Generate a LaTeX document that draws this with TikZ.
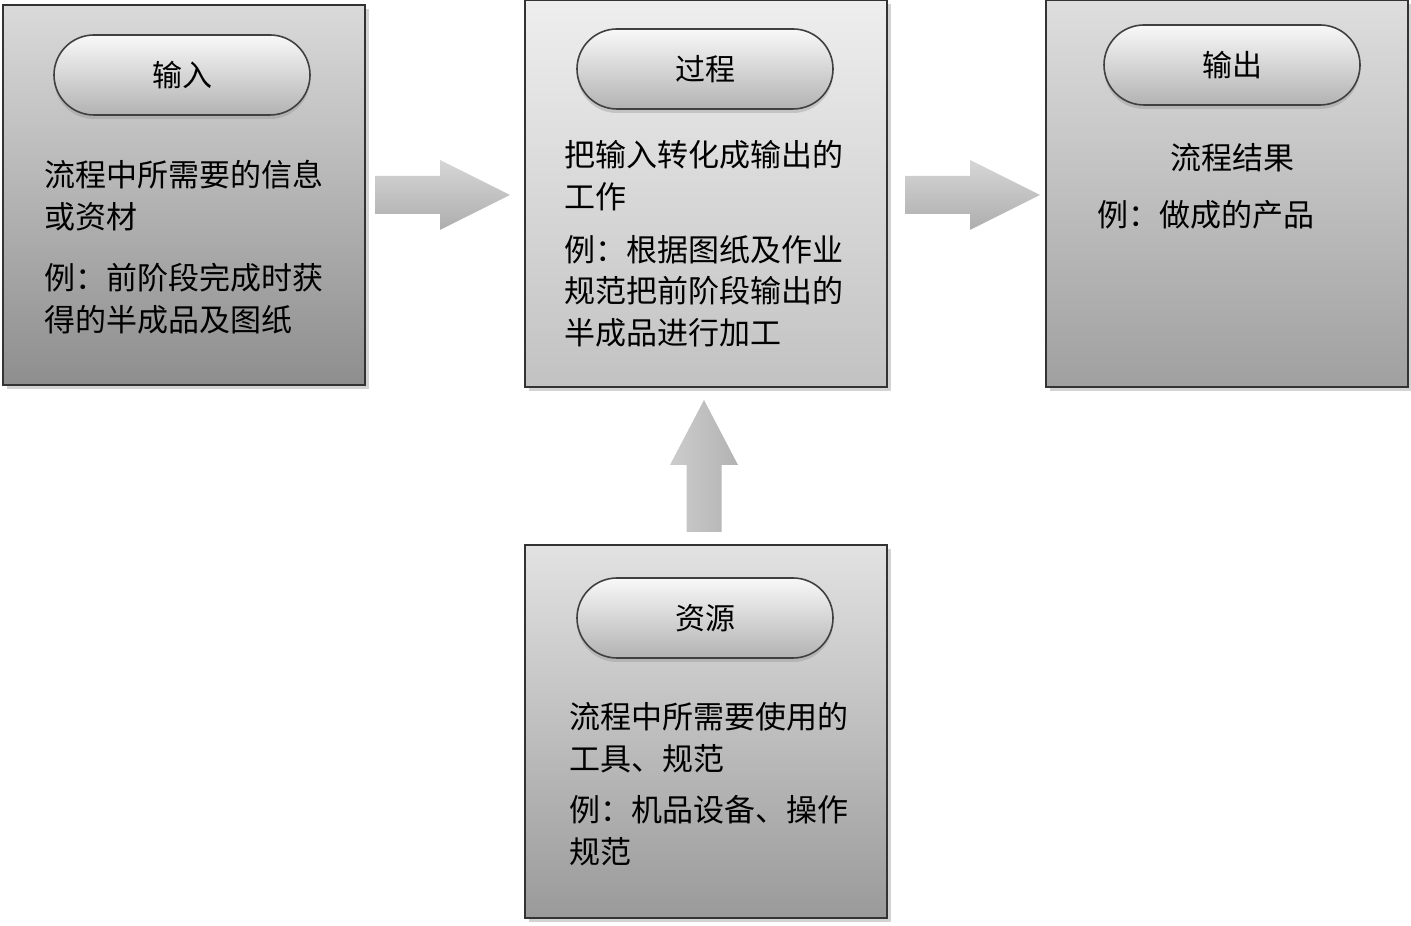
\documentclass[tikz,border=0pt]{standalone}
\usepackage{fontspec}
\setmainfont{Noto Sans CJK SC}
\usetikzlibrary{positioning, shapes.misc, shadows}

\definecolor{intop}{HTML}{DADADA}\definecolor{inbot}{HTML}{8E8E8E}
\definecolor{prtop}{HTML}{EEEEEE}\definecolor{prbot}{HTML}{C2C2C2}
\definecolor{outop}{HTML}{DEDEDE}\definecolor{oubot}{HTML}{A0A0A0}
\definecolor{retop}{HTML}{E2E2E2}\definecolor{rebot}{HTML}{9A9A9A}

\begin{document}
\begin{tikzpicture}[x=0.5pt, y=0.5pt,
  box/.style={draw=black!80, line width=1pt, minimum width=181pt, inner sep=0pt,
    drop shadow={opacity=0.35, shadow xshift=2pt, shadow yshift=-2pt}},
  pill/.style={rounded rectangle, draw=black!75, line width=0.8pt,
    minimum width=128pt, minimum height=40pt, inner sep=0pt,
    top color=white!95!gray, bottom color=black!30,
    drop shadow={opacity=0.3, shadow xshift=0pt, shadow yshift=-2pt},
    font=\fontsize{15}{18}\selectfont},
  body/.style={anchor=north west, align=left, inner sep=0pt,
    font=\fontsize{15.5}{20.75}\selectfont},
  arrowfill/.style={top color=black!16, bottom color=black!32}]
  \useasboundingbox (0,0) rectangle (1411,925);

  % the four boxes
  \node[box, minimum height=190pt, top color=intop, bottom color=inbot] (inbox) at (184,730) {};
  \node[box, minimum height=193.5pt, top color=prtop, bottom color=prbot] (procbox) at (706,731.5) {};
  \node[box, minimum height=193.5pt, top color=outop, bottom color=oubot] (outbox) at (1227,731.5) {};
  \node[box, minimum height=186.5pt, top color=retop, bottom color=rebot] (resbox) at (706,193.5) {};

  % titles
  \node[pill] (inpill) at (182,850) {输入};
  \node[pill] (procpill) at (705,856) {过程};
  \node[pill] (outpill) at (1232,860) {输出};
  \node[pill] (respill) at (705,307) {资源};

  % texts
  \node[body] (intxta) at (44,765) {流程中所需要的信息\\或资材};
  \node[body] (intxtb) at (44,662) {例：前阶段完成时获\\得的半成品及图纸};
  \node[body] (proctxta) at (564,785) {把输入转化成输出的\\工作};
  \node[body] (proctxtb) at (564,690) {例：根据图纸及作业\\规范把前阶段输出的\\半成品进行加工};
  \node[body, anchor=north] (outtxta) at (1232,782) {流程结果};
  \node[body] (outtxtb) at (1097,725) {例：做成的产品};
  \node[body] (restxta) at (569,223) {流程中所需要使用的\\工具、规范};
  \node[body] (restxtb) at (569,130) {例：机品设备、操作\\规范};

  % block arrows
  \coordinate (arrintail) at (375,730);
  \coordinate (arrintip) at (510,730);
  \coordinate (arrouttail) at (905,730);
  \coordinate (arrouttip) at (1040,730);
  \coordinate (arrrestail) at (704,393);
  \coordinate (arrrestip) at (704,525);

  \shade[arrowfill] (arrintail) ++(0,19) -- ++(65,0) -- ++(0,16) -- (arrintip)
    -- ++(-70,-35) -- ++(0,16) -- ++(-65,0) -- cycle;
  \shade[arrowfill] (arrouttail) ++(0,19) -- ++(65,0) -- ++(0,16) -- (arrouttip)
    -- ++(-70,-35) -- ++(0,16) -- ++(-65,0) -- cycle;
  \shade[left color=black!20, right color=black!30] (arrrestail) ++(17.5,0) -- ++(0,67)
    -- ++(16.5,0) -- (arrrestip) -- ++(-34,-65) -- ++(16.5,0) -- ++(0,-67) -- cycle;
\end{tikzpicture}
\end{document}
